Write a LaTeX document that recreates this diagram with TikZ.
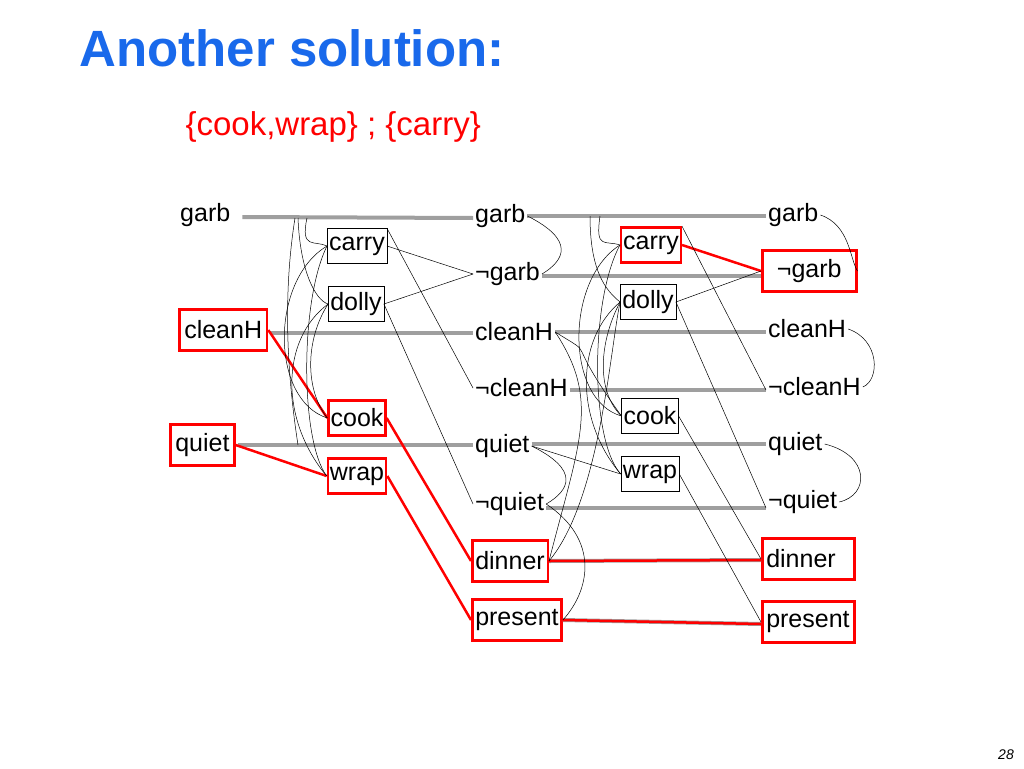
\documentclass[tikz,border=0pt]{standalone}
\usepackage{fontspec}
\setmainfont{Liberation Sans}
\definecolor{ttl}{RGB}{25,105,235}
\begin{document}
\begin{tikzpicture}[x=1pt,y=-1pt,
  prop/.style={font=\fontsize{25}{27}\selectfont,inner sep=2pt,anchor=west},
  act/.style={draw,thin,font=\fontsize{25}{27}\selectfont,inner xsep=2pt,inner ysep=3pt,minimum height=35pt},
  sel/.style={draw=red,line width=2.5pt,inner xsep=5pt},
  gl/.style={gray!75,line width=4pt},
  rl/.style={red,line width=2.5pt},
  ml/.style={black,line width=0.5pt}]
\useasboundingbox (0,0) rectangle (1024,768);
\node[anchor=west,text=ttl,font=\fontsize{51}{55}\selectfont\bfseries] (title) at (76,48) {Another solution:};
\node[anchor=west,text=red,font=\fontsize{33}{36}\selectfont] (sub) at (182,127) {\{cook,wrap\} ; \{carry\}};
\node[font=\itshape\fontsize{14}{16}\selectfont] (pg) at (1006,755) {28};
% level 0
\node[prop] (g0) at (178,215) {garb};
\node[prop,sel,minimum height=41pt] (c0) at (178,330) {cleanH};
\node[prop,sel,minimum height=41pt] (q0) at (169,445) {quiet};
% actions 1
\node[act] (carry1) at (357,246) {carry};
\node[act] (dolly1) at (356,304) {dolly};
\node[act,sel,inner xsep=2pt] (cook1) at (357,418) {cook};
\node[act,sel,inner xsep=2pt] (wrap1) at (357,476) {wrap};
% level 1
\node[prop] (g1) at (473,216) {garb};
\node[prop] (ng1) at (473,274) {¬garb};
\node[prop] (c1) at (473,332) {cleanH};
\node[prop] (nc1) at (473,388) {¬cleanH};
\node[prop] (q1) at (473,446) {quiet};
\node[prop] (nq1) at (473,504) {¬quiet};
\node[prop,sel,minimum height=41pt,inner xsep=3pt] (d1) at (471,561) {dinner};
\node[prop,sel,minimum height=41pt,inner xsep=3pt] (p1) at (471,620) {present};
% actions 2
\node[act,sel,inner xsep=2pt] (carry2) at (651,245) {carry};
\node[act] (dolly2) at (648,302) {dolly};
\node[act] (cook2) at (650,416) {cook};
\node[act] (wrap2) at (650,474) {wrap};
% level 2
\node[prop] (g2) at (766,215) {garb};
\node[prop,sel,minimum height=41pt,minimum width=94pt,inner xsep=4pt] (ng2) at (761,271) {¬garb\hfill};
\node[prop] (c2) at (766,329) {cleanH};
\node[prop] (nc2) at (766,387) {¬cleanH};
\node[prop] (q2) at (766,444) {quiet};
\node[prop] (nq2) at (766,502) {¬quiet};
\node[prop,sel,minimum height=41pt,text width=84pt,inner xsep=4pt] (d2) at (761,559) {dinner};
\node[prop,sel,minimum height=41pt,text width=84pt,inner xsep=4pt] (p2) at (761,622) {present};
% gray persistence lines
\draw[gl] (g0.east)++(10,2) -- (g1.west|-0,218);
\draw[gl] (c0.east)++(2,3) -- (c1.west|-0,333);
\draw[gl] (q0.east)++(2,0) -- (q1.west|-0,445);
\draw[gl] (g1.east) -- (g2.west|-0,216);
\draw[gl] (ng1.east)++(0,2) -- (ng2.west|-0,276);
\draw[gl] (c1.east) -- (c2.west|-0,332);
\draw[gl] (nc1.east)++(0,2) -- (nc2.west|-0,390);
\draw[gl] (q1.east)++(0,-2) -- (q2.west|-0,444);
\draw[gl] (nq1.east)++(0,4) -- (nq2.west|-0,508);
\draw[gl] (d1.east) -- (d2.west|-0,560);
\draw[gl] (p1.east) -- (p2.west|-0,624);
\draw[rl] (d1.east) -- (d2.west|-0,560);
\draw[rl] (p1.east) -- (p2.west|-0,624);
% effects level 1
\draw[ml] (carry1.east) -- (ng1.west);
\draw[ml] (dolly1.east) -- (ng1.west);
\draw[ml] (carry1.north east) -- (nc1.west);
\draw[ml] (dolly1.east) -- (nq1.west);
\draw[rl] (c0.east) -- (cook1.west);
\draw[rl] (q0.east) -- (wrap1.west);
\draw[rl] (cook1.east) -- (d1.west);
\draw[rl] (wrap1.east) -- (p1.west);
% effects level 2
\draw[rl] (carry2.east) -- (ng2.west);
\draw[ml] (dolly2.east) -- (ng2.west);
\draw[ml] (carry2.north east) -- (nc2.west|-0,390);
\draw[ml] (dolly2.east) -- (nq2.west|-0,508);
\draw[ml] (cook2.east) -- (d2.west);
\draw[ml] (wrap2.east) -- (p2.west|-0,622);
\draw[ml] (q1.east) -- (wrap2.west);
\draw[ml] (c1.east) .. controls (600,360) and (560,330) .. (cook2.west);
% mutex / precondition arcs level 1
\draw[ml] (307,218) .. controls (300,250) and (315,240) .. (carry1.west);
\draw[ml] (298,218) .. controls (300,270) and (315,300) .. (dolly1.west);
\draw[ml] (carry1.west) .. controls (270,280) and (270,400) .. (cook1.west);
\draw[ml] (carry1.west) .. controls (300,300) and (300,440) .. (wrap1.west);
\draw[ml] (dolly1.west) .. controls (280,340) and (280,420) .. (wrap1.west);
\draw[ml] (dolly1.west) .. controls (305,340) and (305,390) .. (cook1.west);
\draw[ml] (295,218) .. controls (282,300) and (288,380) .. (298,445);
% mutex level 1 props
\draw[ml] (g1.east) .. controls (575,240) and (565,260) .. (ng1.east);
\draw[ml] (q1.east) .. controls (580,470) and (570,490) .. (nq1.east);
\draw[ml] (c1.east) .. controls (600,400) and (580,440) .. (d1.east);
\draw[ml] (nq1.east) .. controls (600,540) and (590,590) .. (p1.east);
% mutex / precondition arcs level 2
\draw[ml] (600,216) .. controls (595,250) and (605,240) .. (carry2.west);
\draw[ml] (590,216) .. controls (590,270) and (605,290) .. (dolly2.west);
\draw[ml] (carry2.west) .. controls (565,280) and (565,400) .. (cook2.west);
\draw[ml] (carry2.west) .. controls (590,300) and (590,440) .. (wrap2.west);
\draw[ml] (dolly2.west) .. controls (575,340) and (575,420) .. (wrap2.west);
\draw[ml] (dolly2.west) .. controls (600,340) and (595,390) .. (cook2.west);
\draw[ml] (d1.east) .. controls (600,500) and (610,350) .. (dolly2.west);
% mutex level 2 props
\draw[ml] (g2.east) .. controls (850,225) and (850,260) .. (ng2.east);
\draw[ml] (c2.east) .. controls (880,340) and (880,380) .. (nc2.east);
\draw[ml] (q2.east) .. controls (870,455) and (870,495) .. (nq2.east);
\end{tikzpicture}
\end{document}
